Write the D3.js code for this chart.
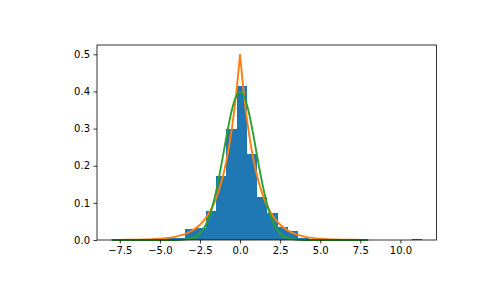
<!DOCTYPE html>
<head>
  <meta charset="utf-8">
  <script src="https://d3js.org/d3.v7.min.js"></script>
  <style type="text/css">
    body { margin: 0; background: #fff; }
    svg { display: block; }
    text { font-family: "DejaVu Sans", sans-serif; font-size: 10px; fill: #000; }
  </style>
</head>

<body>
  <script type="text/javascript">
    // histogram: 30 bins between binLo and binHi, density values
    var binLo = -7.92,
        binHi = 11.34;
    var density = [0.0016, 0, 0.0016, 0, 0.0047, 0.0047, 0.0062, 0.030, 0.031, 0.078,
                   0.172, 0.299, 0.415, 0.232, 0.116, 0.073, 0.035, 0.024, 0.005, 0.003,
                   0.0016, 0.0016, 0.0016, 0, 0, 0, 0, 0, 0, 0.0016];

    // pdf curves
    var curveX = [-8, -7, -6, -5, -4.5, -4, -3.5, -3, -2.75, -2.5, -2.25, -2, -1.75, -1.5, -1.25, -1, -0.75, -0.5, -0.25,
                  0, 0.25, 0.5, 0.75, 1, 1.25, 1.5, 1.75, 2, 2.25, 2.5, 2.75, 3, 3.5, 4, 4.5, 5, 6, 7, 7.99];
    var laplaceY = [0.0002, 0.0005, 0.0012, 0.0034, 0.0056, 0.0092, 0.0151, 0.0249, 0.0320, 0.0410, 0.0527, 0.0677, 0.0869, 0.1116, 0.1433, 0.1839, 0.2362, 0.3033, 0.3894,
                    0.5, 0.3894, 0.3033, 0.2362, 0.1839, 0.1433, 0.1116, 0.0869, 0.0677, 0.0527, 0.0410, 0.0320, 0.0249, 0.0151, 0.0092, 0.0056, 0.0034, 0.0012, 0.0005, 0.0002];
    var normalY = [0, 0, 0, 0, 0, 0.0001, 0.0009, 0.0044, 0.0091, 0.0175, 0.0317, 0.0540, 0.0863, 0.1295, 0.1826, 0.2420, 0.3011, 0.3521, 0.3867,
                   0.3989, 0.3867, 0.3521, 0.3011, 0.2420, 0.1826, 0.1295, 0.0863, 0.0540, 0.0317, 0.0175, 0.0091, 0.0044, 0.0009, 0.0001, 0, 0, 0, 0, 0];

    var xTicks = [-7.5, -5, -2.5, 0, 2.5, 5, 7.5, 10];
    var yTicks = [0, 0.1, 0.2, 0.3, 0.4, 0.5];

    var W = 485, H = 300;
    var margin = { top: 45, right: 48.5, bottom: 60, left: 97 };

    var xScale = d3.scaleLinear()
      .domain([-8.92, 12.25])
      .range([margin.left, W - margin.right]);
    var yScale = d3.scaleLinear()
      .domain([0, 0.525])
      .range([H - margin.bottom, margin.top]);

    var svg = d3.select("body").append("svg")
      .attr("width", W)
      .attr("height", H);

    var binW = (binHi - binLo) / density.length;
    var bins = density.map(function(d, i) {
      return { x0: binLo + i * binW, x1: binLo + (i + 1) * binW, y: d };
    });

    svg.append("g").selectAll("rect")
      .data(bins)
      .enter().append("rect")
      .attr("x", function(d) { return xScale(d.x0); })
      .attr("width", function(d) { return xScale(d.x1) - xScale(d.x0); })
      .attr("y", function(d) { return yScale(d.y); })
      .attr("height", function(d) { return yScale(0) - yScale(d.y); })
      .attr("fill", "#1f77b4")
      .attr("shape-rendering", "crispEdges");

    var pts = function(ys) {
      return curveX.map(function(x, i) { return [x, ys[i]]; });
    };

    var line = d3.line()
      .x(function(d) { return xScale(d[0]); })
      .y(function(d) { return yScale(d[1]); })
      .curve(d3.curveMonotoneX);

    // laplace has a cusp at 0 -> draw both halves separately
    var lap = pts(laplaceY);
    var lapHalves = [lap.filter(function(d) { return d[0] <= 0; }),
                     lap.filter(function(d) { return d[0] >= 0; })];
    svg.append("g").selectAll("path")
      .data(lapHalves)
      .enter().append("path")
      .attr("d", line)
      .attr("fill", "none")
      .attr("stroke", "#ff7f0e")
      .attr("stroke-width", 1.9)
      .attr("stroke-linejoin", "round");

    svg.append("path")
      .datum(pts(normalY))
      .attr("d", line)
      .attr("fill", "none")
      .attr("stroke", "#2ca02c")
      .attr("stroke-width", 1.9);

    // axes
    var xAxis = d3.axisBottom(xScale)
      .tickValues(xTicks)
      .tickSizeInner(3.5).tickSizeOuter(0).tickPadding(3.5)
      .tickFormat(function(d) { return d3.format(".1f")(d).replace("-", "\u2212"); });
    var yAxis = d3.axisLeft(yScale)
      .tickValues(yTicks)
      .tickSizeInner(3.5).tickSizeOuter(0).tickPadding(3.5)
      .tickFormat(d3.format(".1f"));

    var gx = svg.append("g")
      .attr("transform", "translate(0," + (H - margin.bottom) + ")")
      .call(xAxis);
    var gy = svg.append("g")
      .attr("transform", "translate(" + margin.left + ",0)")
      .call(yAxis);

    [gx, gy].forEach(function(g) {
      g.select(".domain").remove();
      g.selectAll("line").attr("stroke", "#000").attr("stroke-width", 0.8);
      g.selectAll("text").attr("font-family", "DejaVu Sans").attr("font-size", 10).attr("fill", "#000");
    });

    svg.append("rect")
      .attr("x", margin.left)
      .attr("y", margin.top)
      .attr("width", W - margin.left - margin.right)
      .attr("height", H - margin.top - margin.bottom)
      .attr("fill", "none")
      .attr("stroke", "#000")
      .attr("stroke-width", 0.8);
  </script>
</body>
